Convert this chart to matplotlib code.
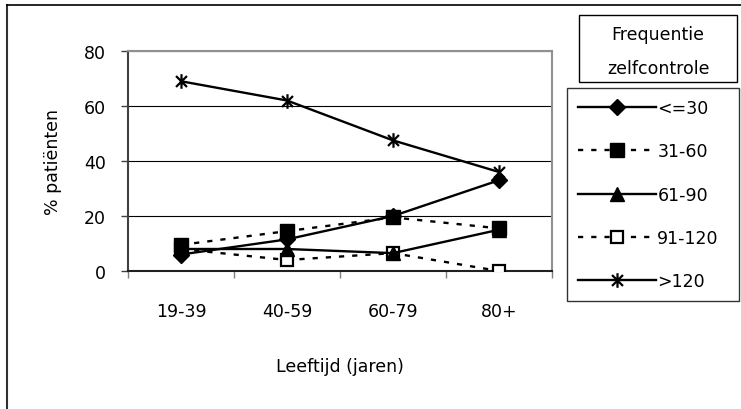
import numpy as np
import matplotlib.pyplot as plt
from matplotlib.path import Path
from matplotlib.lines import Line2D
from matplotlib.patches import Rectangle

# Data
age_groups = ['19-39', '40-59', '60-79', '80+']
le30 = [6, 11.5, 20, 33]
f31_60 = [9.5, 14.5, 19.5, 15.5]
f61_90 = [8, 8, 6.5, 15]
f91_120 = [8, 4, 6.5, 0]
gt120 = [69, 62, 47.5, 36]
series_labels = ['<=30', '31-60', '61-90', '91-120', '>120']

plt.rcParams['font.family'] = 'DejaVu Sans'
fs = 12.5

# asterisk marker like the spreadsheet one (x plus vertical bar)
star = Path([(0, -1), (0, 1), (-0.75, -0.75), (0.75, 0.75), (-0.75, 0.75), (0.75, -0.75)],
            [Path.MOVETO, Path.LINETO, Path.MOVETO, Path.LINETO, Path.MOVETO, Path.LINETO])

W, H = 741, 410
fig = plt.figure(figsize=(W / 100, H / 100), dpi=100)
ax = fig.add_axes([128 / W, 1 - 272 / H, 424 / W, 220 / H])

x = np.arange(1, len(age_groups) + 1)
dash = (0, (2.2, 3.4))
lw = 1.7
# first series ends up on top, as in the original
ax.plot(x, le30, color='black', lw=lw, marker='D', ms=8.5, label=series_labels[0], zorder=7)
ax.plot(x, f31_60, color='black', lw=lw, ls=dash, marker='s', ms=10, label=series_labels[1], zorder=6)
ax.plot(x, f61_90, color='black', lw=lw, marker='^', ms=10, label=series_labels[2], zorder=5)
ax.plot(x, f91_120, color='black', lw=lw, ls=dash, marker='s', ms=8.5, mfc='white', mew=1.6,
        label=series_labels[3], zorder=4)
ax.plot(x, gt120, color='black', lw=lw, marker=star, ms=10.5, mew=1.6, label=series_labels[4], zorder=3)

ax.set_xlim(0.5, 4.5)
ax.set_ylim(0, 80)
ax.set_yticks([0, 20, 40, 60, 80])
ax.yaxis.grid(True, color='black', lw=0.8)
ax.set_axisbelow(True)

ax.set_xticks(x)
ax.set_xticklabels(age_groups, fontsize=fs)
ax.set_xticks(np.arange(0.5, 5.0, 1.0), minor=True)
ax.tick_params(axis='x', which='major', length=0, pad=22)
ax.tick_params(axis='x', which='minor', length=5, color='#808080', width=1)
ax.tick_params(axis='y', length=5, width=1, color='#404040', labelsize=fs, pad=11)

for side in ['top', 'right']:
    ax.spines[side].set_color('#909090')
    ax.spines[side].set_linewidth(1.5)
ax.spines['left'].set_color('#404040')
ax.spines['left'].set_linewidth(1.5)
ax.spines['bottom'].set_color('#202020')
ax.spines['bottom'].set_linewidth(1.5)

ax.set_xlabel('Leeftijd (jaren)', fontsize=fs)
ax.xaxis.set_label_coords(0.5, -0.39)
ax.set_ylabel('% patiënten', fontsize=fs)
ax.yaxis.set_label_coords(-0.155, 0.5)

# legend title box
fig.add_artist(Rectangle((579 / W, 1 - 83 / H), 158 / W, 67 / H, transform=fig.transFigure,
                         fill=False, edgecolor='black', lw=1))
fig.text(658 / W, 1 - 35 / H, 'Frequentie', ha='center', va='center', fontsize=fs)
fig.text(658 / W, 1 - 69 / H, 'zelfcontrole', ha='center', va='center', fontsize=fs)

leg = fig.legend(loc='upper left', bbox_to_anchor=(567 / W, 0, 172 / W, 1 - 89 / H),
                 mode='expand', borderaxespad=0, fontsize=fs, handlelength=4.45,
                 handletextpad=0.1, labelspacing=1.45, borderpad=0.65, fancybox=False)
leg.get_frame().set_edgecolor('black')
leg.get_frame().set_linewidth(1)

# outer chart frame
fig.add_artist(Line2D([7 / W, 7 / W], [0, 1 - 6 / H], transform=fig.transFigure, color='#303030', lw=1.5))
fig.add_artist(Line2D([7 / W, 1], [1 - 6 / H, 1 - 6 / H], transform=fig.transFigure, color='black', lw=1.2))

fig.savefig('out.png', dpi=100)
